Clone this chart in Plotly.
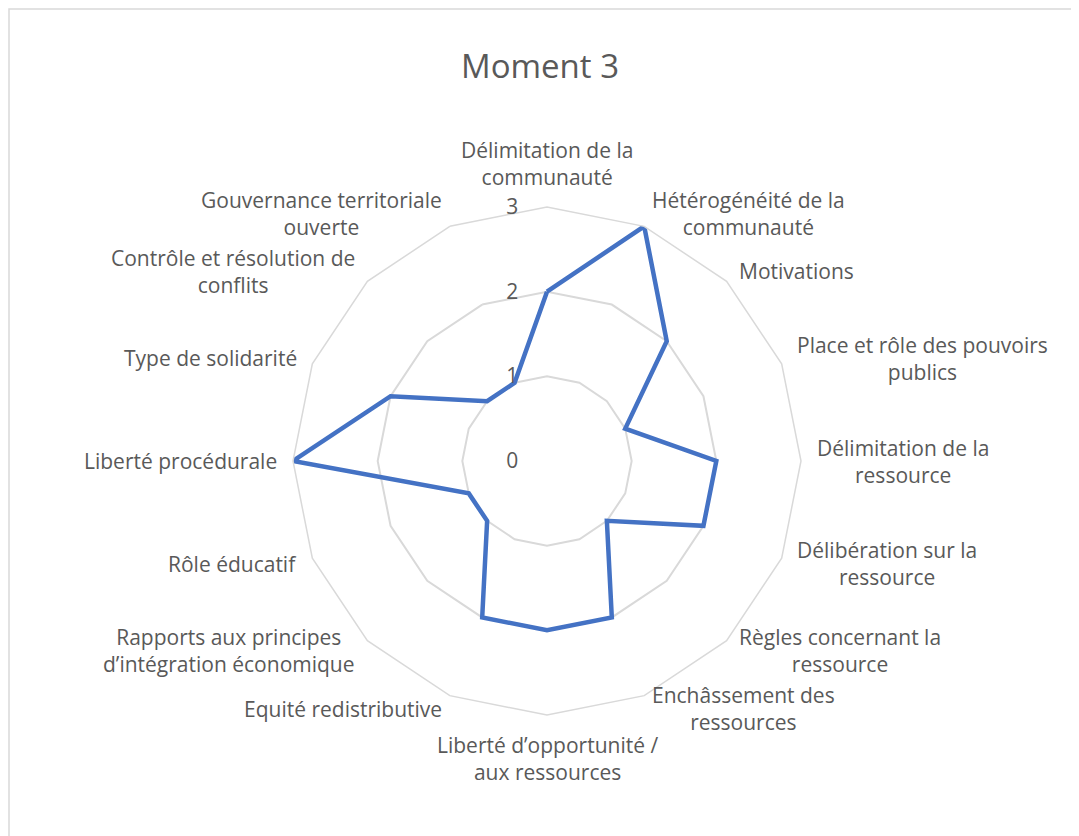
import math
import plotly.graph_objects as go

# ========================
# Data
# ========================
categories = [
    "Délimitation de la<br>communauté",
    "Hétérogénéité de la<br>communauté",
    "Motivations",
    "Place et rôle des pouvoirs<br>publics",
    "Délimitation de la<br>ressource",
    "Délibération sur la<br>ressource",
    "Règles concernant la<br>ressource",
    "Enchâssement des<br>ressources",
    "Liberté d’opportunité /<br>aux ressources",
    "Equité redistributive",
    "Rapports aux principes<br>d’intégration économique",
    "Rôle éducatif",
    "Liberté procédurale",
    "Type de solidarité",
    "Contrôle et résolution de<br>conflits",
    "Gouvernance territoriale<br>ouverte",
]
values = [2, 3, 2, 1, 2, 2, 1, 2, 2, 2, 1, 1, 3, 2, 1, 1]
radial_ticks = [0, 1, 2, 3]

# ========================
# Layout geometry (pixels, page has an 8px body margin)
# ========================
W, H = 1079, 836
OFF = 8
CX, CY = 547 - OFF, 461 - OFF   # centre of the radar
R = 254                          # radius of the outer ring
PAD = 14                         # gap between ring and category label
TEXT = "#595959"
GRID = "#d9d9d9"
FONT = "Open Sans"

fig = go.Figure()
fig.add_trace(go.Scatterpolar(
    r=values + values[:1],
    theta=categories + categories[:1],
    mode="lines",
    line=dict(color="#4472C4", width=4.5),
    hoverinfo="skip",
    showlegend=False,
))

# category labels placed like Excel: just outside each vertex, centred text
annotations = []
n = len(categories)
for i, label in enumerate(categories):
    a = 2 * math.pi * i / n
    sx, sy = math.sin(a), math.cos(a)
    px = CX + (R + PAD) * sx
    py = CY - (R + PAD) * sy
    if abs(sx) < 0.01:
        xanchor = "center"
        yanchor = "bottom" if sy > 0 else "top"
    else:
        xanchor = "left" if sx > 0 else "right"
        yanchor = "middle"
    annotations.append(dict(
        x=px / W, y=1 - py / H, xref="paper", yref="paper",
        text=label, showarrow=False, align="center",
        xanchor=xanchor, yanchor=yanchor,
        font=dict(family=FONT, size=21, color=TEXT),
    ))

fig.update_layout(
    width=W, height=H,
    margin=dict(l=0, r=0, t=0, b=0),
    paper_bgcolor="white",
    title=dict(text="Moment 3", x=(540 - OFF) / W, xanchor="center",
               y=1 - (66 - OFF) / H, yref="container", yanchor="middle",
               font=dict(family=FONT, size=33, color=TEXT)),
    polar=dict(
        domain=dict(x=[(CX - R) / W, (CX + R) / W],
                    y=[1 - (CY + R) / H, 1 - (CY - R) / H]),
        bgcolor="white",
        gridshape="linear",
        radialaxis=dict(
            range=[0, 3], tickvals=radial_ticks, angle=90,
            side="counterclockwise", tickangle=90,
            # invisible ticks push the labels off the axis, as in Excel
            ticks="outside", ticklen=21, tickcolor="rgba(0,0,0,0)",
            showline=False, showgrid=True,
            gridcolor=GRID, gridwidth=1.5,
            tickfont=dict(family=FONT, size=21, color=TEXT),
        ),
        angularaxis=dict(
            rotation=90, direction="clockwise",
            showticklabels=False, ticks="", showgrid=False,
            showline=True, linecolor=GRID, linewidth=1.5,
        ),
    ),
    annotations=annotations,
    shapes=[dict(type="rect", xref="paper", yref="paper",
                 x0=1 / W, y0=-0.02, x1=1.02, y1=1 - 1 / H,
                 line=dict(color=GRID, width=1.5))],
    font=dict(family=FONT, color=TEXT),
)

fig.write_html("out.html")
